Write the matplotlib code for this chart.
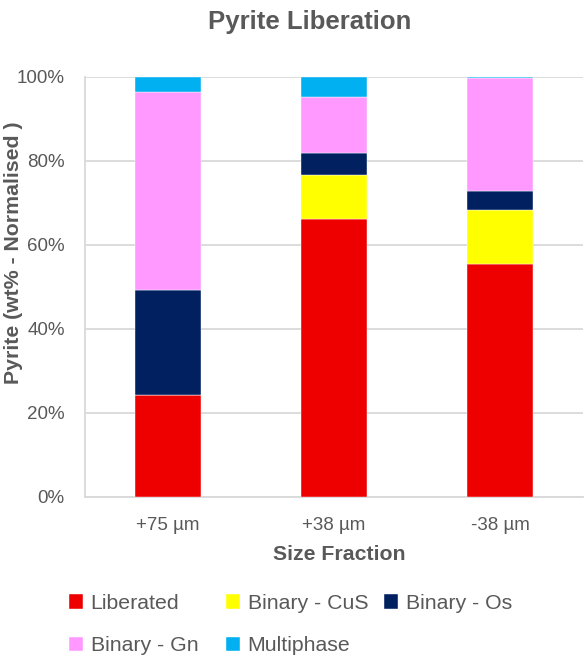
import matplotlib.pyplot as plt
import numpy as np

plt.rcParams['font.family'] = ['Liberation Sans', 'DejaVu Sans']

categories = ['+75 µm', '+38 µm', '-38 µm']
liberated = [24.3, 66.2, 55.4]
binary_cus = [0.0, 10.3, 12.8]
binary_os = [24.9, 5.3, 4.5]
binary_gn = [47.2, 13.4, 27.0]
multiphase = [3.6, 4.8, 0.3]

series = [
    ('Liberated', liberated, '#EE0000'),
    ('Binary - CuS', binary_cus, '#FFFF00'),
    ('Binary - Os', binary_os, '#002060'),
    ('Binary - Gn', binary_gn, '#FF99FF'),
    ('Multiphase', multiphase, '#00B0F0'),
]
grey = '#595959'

fig = plt.figure(figsize=(5.84, 6.56), dpi=100)
ax = fig.add_axes([0.1455, 0.243, 0.853, 0.640])

x = np.arange(len(categories))
bottom = np.zeros(len(categories))
handles = []
for name, vals, color in series:
    vals = np.array(vals)
    b = ax.bar(x, vals, 0.4, bottom=bottom, color=color, label=name,
               edgecolor='white', linewidth=0.3, zorder=3)
    handles.append(b)
    bottom += vals

ax.set_xlim(-0.5, 2.5)
ax.set_ylim(0, 100)
ax.set_yticks(np.arange(0, 101, 20))
ax.set_yticklabels([f'{v}%' for v in range(0, 101, 20)])
ax.set_xticks(x)
ax.set_xticklabels(categories)
ax.grid(axis='y', color='#D9D9D9', linewidth=1.3, zorder=0)
for s in ['top', 'right']:
    ax.spines[s].set_visible(False)
for s in ['left', 'bottom']:
    ax.spines[s].set_color('#D9D9D9')
    ax.spines[s].set_linewidth(1.3)
ax.tick_params(length=0, labelsize=13.5, labelcolor=grey, pad=14.5)

fig.suptitle('Pyrite Liberation', x=0.531, y=0.966, va='center',
             fontsize=18.5, fontweight='bold', color=grey)
ax.set_xlabel('Size Fraction', fontsize=15.3, fontweight='bold', color=grey)
ax.xaxis.set_label_coords(0.51, -0.137)
ax.xaxis.label.set_va('center')
ax.set_ylabel('Pyrite (wt% - Normalised )', fontsize=15.3, fontweight='bold',
              color=grey, va='center')
ax.yaxis.set_label_coords(-0.144, 0.58)

# legend laid out in three fixed columns, row-major like the original
cols = [[0, 3], [1, 4], [2]]
col_x = [70, 227, 385]
for xs, idx in zip(col_x, cols):
    fig.legend([handles[i] for i in idx], [series[i][0] for i in idx],
               loc='upper left', bbox_to_anchor=(xs / 584 - 0.002, 1 - 594 / 656),
               frameon=False, fontsize=15.3, handlelength=0.68, handleheight=0.68,
               handletextpad=0.35, labelspacing=1.1, borderpad=0,
               borderaxespad=0, labelcolor=grey)

fig.savefig('out.png', dpi=100)
